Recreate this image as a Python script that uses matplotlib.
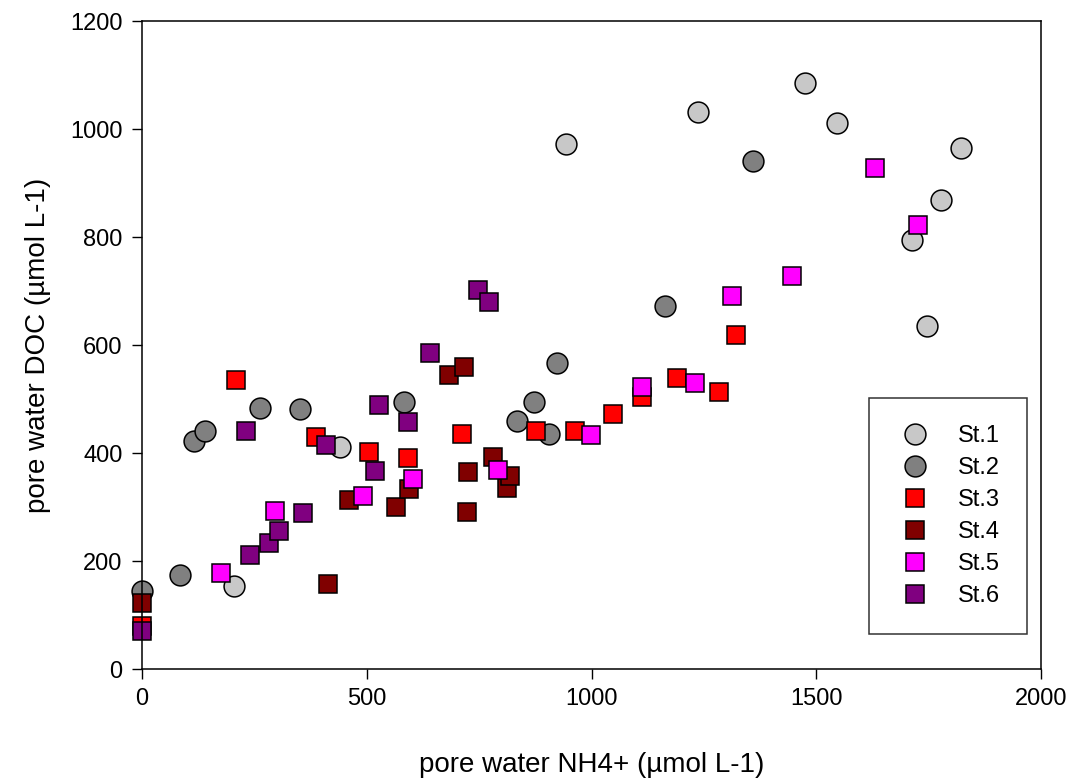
import matplotlib
matplotlib.use('Agg')
import matplotlib.pyplot as plt

plt.rcParams['font.family'] = ['Liberation Sans', 'DejaVu Sans']

# datos (NH4+, DOC) por estacion
st1_x = [205, 440, 943, 1238, 1474, 1546, 1712, 1747, 1778, 1822]
st1_y = [154, 411, 973, 1031, 1085, 1011, 794, 636, 869, 964]

st2_x = [0, 85, 115, 141, 262, 351, 583, 834, 873, 905, 923, 1163, 1360]
st2_y = [145, 174, 422, 441, 483, 481, 494, 460, 494, 435, 567, 672, 941]

st3_x = [0, 209, 386, 504, 591, 712, 876, 964, 1048, 1112, 1190, 1284, 1321]
st3_y = [80, 535, 430, 401, 390, 435, 441, 440, 472, 503, 538, 513, 619]

st4_x = [0, 413, 460, 565, 595, 684, 716, 723, 726, 781, 813, 819]
st4_y = [123, 157, 313, 300, 333, 544, 559, 291, 365, 393, 336, 357]

st5_x = [176, 295, 491, 603, 792, 999, 1113, 1230, 1313, 1445, 1631, 1726]
st5_y = [178, 293, 320, 351, 368, 433, 522, 530, 691, 728, 928, 823]

st6_x = [0, 231, 240, 282, 305, 359, 410, 518, 527, 592, 641, 747, 771]
st6_y = [70, 441, 212, 233, 256, 288, 414, 367, 488, 457, 586, 702, 680]

estaciones = ['St.1', 'St.2', 'St.3', 'St.4', 'St.5', 'St.6']
xs = [st1_x, st2_x, st3_x, st4_x, st5_x, st6_x]
ys = [st1_y, st2_y, st3_y, st4_y, st5_y, st6_y]
colores = ['#c8c8c8', '#808080', '#ff0000', '#800000', '#ff00ff', '#800080']
marcadores = ['o', 'o', 's', 's', 's', 's']
tamanios = [15, 15, 13.5, 13.5, 13.5, 13.5]

fig = plt.figure(figsize=(10.71, 7.79), dpi=100)
ax = fig.add_axes([142 / 1071, 1 - 669 / 779, 899 / 1071, 648 / 779])

for x, y, c, m, s, nom in zip(xs, ys, colores, marcadores, tamanios, estaciones):
    ax.plot(x, y, linestyle='none', marker=m, markersize=s, markerfacecolor=c,
            markeredgecolor='black', markeredgewidth=1.1, label=nom, clip_on=False)

ax.set_xlim(0, 2000)
ax.set_ylim(0, 1200)
ax.set_xticks([0, 500, 1000, 1500, 2000])
ax.set_yticks([0, 200, 400, 600, 800, 1000, 1200])
ax.tick_params(direction='out', length=7, width=1, labelsize=17, pad=7)
for sp in ax.spines.values():
    sp.set_linewidth(1.1)

ax.set_xlabel('pore water NH4+ (µmol L-1)', fontsize=20, labelpad=30)
ax.set_ylabel('pore water DOC (µmol L-1)', fontsize=20, labelpad=14)

leg = ax.legend(loc='lower left', bbox_to_anchor=(0.809, 0.054), borderaxespad=0,
                fontsize=17, frameon=True, fancybox=False, edgecolor='black',
                labelspacing=0.42, handletextpad=1.0, borderpad=1.15, handlelength=1.6)
leg.get_frame().set_linewidth(1.1)

fig.savefig('out.png', dpi=100)
